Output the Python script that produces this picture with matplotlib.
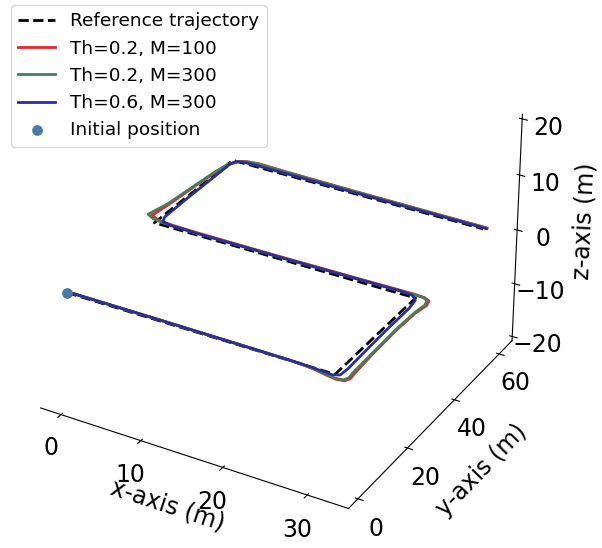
import numpy as np
import matplotlib
matplotlib.use('Agg')
import matplotlib.pyplot as plt

# reference lawnmower path (m)
ref_x = [0, 32, 32, 0, 0, 31.5]
ref_y = [0, 0, 32, 32, 63, 63]

# Th=0.2, M=100
red_x = [0, 10, 20, 27, 29.5, 31.2, 32.5, 33.4, 33.7, 33.6, 33.4, 33.3, 33.4, 33.7, 33.5, 32.8, 31.5,
         25, 15, 5, 1.5, 0.0, -1.1, -0.8, -0.5, -0.2, 0.1, 0.7, 1.6, 3.0, 8, 16, 24, 31.8]
red_y = [0.3, 0.3, 0.2, 0.1, -0.3, -1.0, -1.4, -1.1, 0.1, 2, 10, 20, 27, 30.5, 32.3, 33.0, 33.2,
         33.0, 32.8, 32.8, 33.0, 33.4, 34.4, 40, 50, 57, 61, 63.1, 64.0, 64.4, 64.1, 63.9, 63.8, 63.7]

# Th=0.2, M=300
green_x = [0, 10, 20, 27, 29.5, 31, 32.3, 33.2, 33.5, 33.4, 33.3, 33.2, 33.3, 33.5, 33.3, 32.7, 31.5,
           25, 15, 5, 1.0, -0.6, -1.6, -1.0, -0.6, -0.3, 0.0, 0.6, 1.5, 3.0, 8, 16, 24, 31.8]
green_y = [0.3, 0.3, 0.2, 0.1, -0.2, -0.8, -1.2, -0.9, 0.2, 2, 10, 20, 27, 30.5, 32.2, 32.9, 33.0,
           32.8, 32.6, 32.6, 32.8, 33.3, 34.4, 40, 50, 57, 60.8, 62.9, 63.9, 64.3, 64.0, 63.8, 63.7, 63.6]

# Th=0.6, M=300
blue_x = [0, 10, 20, 28, 30.5, 31.8, 32.5, 32.6, 32.5, 32.4, 32.4, 32.2, 31.5, 30, 25, 15, 5, 2.0,
          0.7, 0.3, 0.2, 0.2, 0.2, 0.5, 1.2, 3, 8, 16, 24, 31.8]
blue_y = [0.3, 0.3, 0.2, 0.1, -0.2, -0.4, 0.3, 3, 10, 20, 28, 31.2, 32.6, 32.9, 32.8, 32.6, 32.6,
          32.7, 33.2, 35, 45, 55, 61.5, 62.8, 63.4, 63.5, 63.5, 63.4, 63.4, 63.4]

start = (0, 0, 0)

xticks = [0, 10, 20, 30]
yticks = [0, 20, 40, 60]
zticks = [-20, -10, 0, 10, 20]

fig = plt.figure(figsize=(6.02, 5.48), dpi=100)
ax = fig.add_axes([-0.046, 0.009, 1.0, 1.0], projection='3d')

ax.plot(ref_x, ref_y, np.zeros(len(ref_x)), '--', color='black', lw=2, label='Reference trajectory')
ax.plot(red_x, red_y, np.zeros(len(red_x)), color='#e8262a', lw=2, label='Th=0.2, M=100')
ax.plot(green_x, green_y, np.zeros(len(green_x)), color='#4a7b5b', lw=2, label='Th=0.2, M=300')
ax.plot(blue_x, blue_y, np.zeros(len(blue_x)), color='#2c2f94', lw=2, label='Th=0.6, M=300')
ax.scatter(*start, color='#4a7aa6', s=45, depthshade=False, label='Initial position')

ax.set_xlim(-2.6, 34.8)
ax.set_ylim(-3.7, 66)
ax.set_zlim(-20.8, 20.8)
ax.set_xticks(xticks)
ax.set_yticks(yticks)
ax.set_zticks(zticks)
ax.tick_params(labelsize=17)

ax.set_xlabel('x-axis (m)', fontsize=17)
ax.set_ylabel('y-axis (m)', fontsize=17, labelpad=11)
ax.set_zlabel('z-axis (m)', fontsize=17, labelpad=9)

# z axis on the right-hand edge
ax.zaxis.set_ticks_position('upper')
ax.zaxis.set_label_position('upper')

ax.grid(False)
for a in (ax.xaxis, ax.yaxis, ax.zaxis):
    a.pane.fill = False
    a.pane.set_edgecolor('none')

ax.view_init(elev=30, azim=-60)

fig.legend(loc='upper left', bbox_to_anchor=(0.0183, 0.991), borderaxespad=0, fontsize=13.3)

plt.savefig('out.png', dpi=100)
